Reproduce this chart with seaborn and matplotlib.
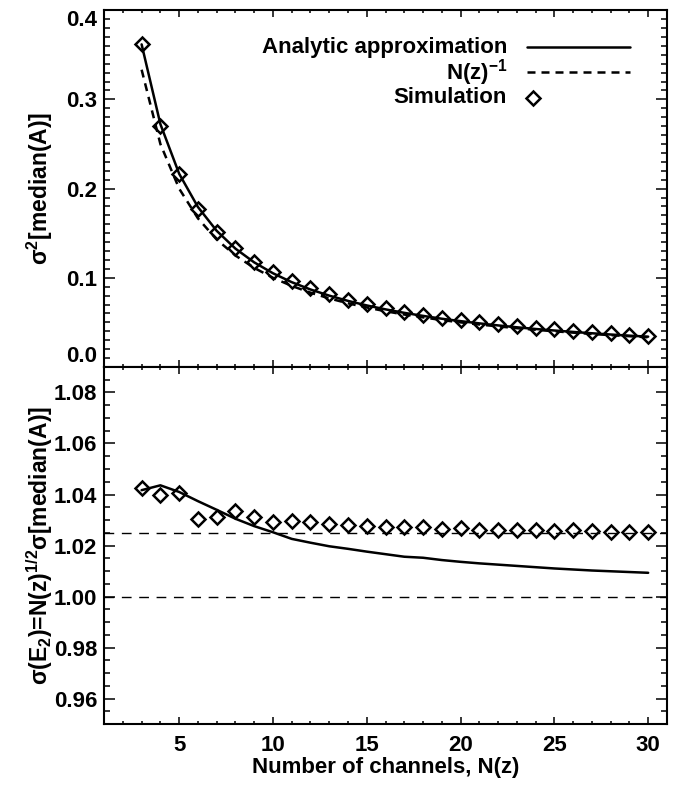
import matplotlib
matplotlib.use("Agg")
import matplotlib.pyplot as plt
from matplotlib.ticker import MultipleLocator, FormatStrFormatter
from matplotlib.lines import Line2D
import seaborn as sns

# ---- data ----
n_channels = list(range(3, 31))

analytic_var = [0.3617, 0.2723, 0.2167, 0.1794, 0.1527, 0.1327, 0.1173, 0.1051,
                0.0951, 0.0869, 0.0800, 0.0741, 0.0690, 0.0646, 0.0607, 0.0573,
                0.0541, 0.0514, 0.0489, 0.0466, 0.0445, 0.0426, 0.0409, 0.0393,
                0.0378, 0.0364, 0.0351, 0.0340]
inverse_n = [0.3333, 0.2500, 0.2000, 0.1667, 0.1429, 0.1250, 0.1111, 0.1000,
             0.0909, 0.0833, 0.0769, 0.0714, 0.0667, 0.0625, 0.0588, 0.0556,
             0.0526, 0.0500, 0.0476, 0.0455, 0.0435, 0.0417, 0.0400, 0.0385,
             0.0370, 0.0357, 0.0345, 0.0333]
simulation_var = [0.3622, 0.2703, 0.2165, 0.1769, 0.1519, 0.1336, 0.1182, 0.1060,
                  0.0964, 0.0883, 0.0814, 0.0755, 0.0704, 0.0659, 0.0621, 0.0586,
                  0.0554, 0.0527, 0.0501, 0.0478, 0.0458, 0.0439, 0.0421, 0.0405,
                  0.0390, 0.0376, 0.0363, 0.0350]

analytic_e2 = [1.0417, 1.0436, 1.0410, 1.0374, 1.0340, 1.0305, 1.0276, 1.0252,
               1.0226, 1.0211, 1.0197, 1.0187, 1.0176, 1.0166, 1.0156, 1.0152,
               1.0143, 1.0136, 1.0130, 1.0125, 1.0120, 1.0115, 1.0110, 1.0106,
               1.0102, 1.0099, 1.0096, 1.0093]
simulation_e2 = [1.0424, 1.0397, 1.0405, 1.0302, 1.0311, 1.0337, 1.0313, 1.0293,
                 1.0295, 1.0293, 1.0285, 1.0281, 1.0278, 1.0272, 1.0273, 1.0272,
                 1.0263, 1.0269, 1.0259, 1.0259, 1.0262, 1.0259, 1.0256, 1.0260,
                 1.0256, 1.0254, 1.0254, 1.0254]
reference_levels = [1.0, 1.025]

legend_labels = ["Analytic approximation", "N(z)$^{\u2212 1}$", "Simulation"]

# ---- style ----
sns.set_theme(style="ticks")
plt.rcParams["font.family"] = ["Liberation Sans", "DejaVu Sans"]
plt.rcParams["font.weight"] = "bold"
plt.rcParams["mathtext.default"] = "regular"
plt.rcParams["axes.linewidth"] = 1.5
plt.rcParams["text.color"] = "black"
plt.rcParams["axes.labelcolor"] = "black"
plt.rcParams["xtick.color"] = "black"
plt.rcParams["ytick.color"] = "black"

FS = 16
fig = plt.figure(figsize=(6.94, 7.87), dpi=100)
ax1 = fig.add_axes([0.150, 0.5337, 0.811, 0.4533])
ax2 = fig.add_axes([0.150, 0.080, 0.811, 0.4537], sharex=ax1)

LW = 1.8
MK = dict(marker="D", markersize=7, markerfacecolor="none",
          markeredgecolor="black", markeredgewidth=1.8)
# top panel
sns.lineplot(x=n_channels, y=analytic_var, ax=ax1, color="black", lw=LW)
sns.lineplot(x=n_channels, y=inverse_n, ax=ax1, color="black", lw=LW)
ax1.lines[-1].set_dashes((3.2, 2.4))
sns.lineplot(x=n_channels, y=simulation_var, ax=ax1, color="black", lw=0, **MK)

# bottom panel
for lev in reference_levels:
    ax2.axhline(lev, color="black", lw=1.0, dashes=(7, 5.5))
sns.lineplot(x=n_channels, y=analytic_e2, ax=ax2, color="black", lw=LW)
sns.lineplot(x=n_channels, y=simulation_e2, ax=ax2, color="black", lw=0, **MK)

ax1.set_xlim(1, 31)
ax1.set_ylim(0.0, 0.4)
ax2.set_ylim(0.95, 1.09)

ax1.yaxis.set_major_locator(MultipleLocator(0.1))
ax1.yaxis.set_minor_locator(MultipleLocator(0.01))
ax2.yaxis.set_major_locator(MultipleLocator(0.02))
ax2.yaxis.set_minor_locator(MultipleLocator(0.005))
ax2.xaxis.set_major_locator(MultipleLocator(5))
ax2.xaxis.set_minor_locator(MultipleLocator(1))
ax1.yaxis.set_major_formatter(FormatStrFormatter("%.1f"))
ax2.yaxis.set_major_formatter(FormatStrFormatter("%.2f"))

for ax in (ax1, ax2):
    ax.tick_params(which="both", direction="in", top=True, right=True,
                   width=1.1, colors="black", labelsize=FS)
    ax.tick_params(axis="x", which="major", length=5)
    ax.tick_params(axis="x", which="minor", length=2.5)
    ax.tick_params(axis="y", which="major", length=8, pad=5)
    ax.tick_params(axis="y", which="minor", length=4.3)
    for s in ax.spines.values():
        s.set_visible(True)
        s.set_linewidth(1.5)
        s.set_color("black")
    ax.set_facecolor("white")
ax1.tick_params(labelbottom=False)
ax2.tick_params(axis="x", pad=8)

ax1.set_xlabel("")
ax2.set_xlabel("Number of channels, N(z)", fontsize=FS, fontweight="bold",
               color="black")
ax1.set_ylabel(r"$\sigma^{2}$[median(A)]", fontsize=16.5, fontweight="bold",
               color="black")
ax2.set_ylabel(r"$\sigma$(E$_{2}$)=N(z)$^{1/2}$$\sigma$[median(A)]",
               fontsize=16.5, fontweight="bold", color="black")
ax1.yaxis.set_label_coords(-0.088, 0.5)
ax2.yaxis.set_label_coords(-0.088, 0.5)
ax2.xaxis.set_label_coords(0.5, -0.093)

fig.canvas.draw()
for t in ax1.get_yticklabels():
    if t.get_text() == "0.0":
        t.set_va("bottom")
    if t.get_text() == "0.4":
        t.set_va("top")

# legend (right-aligned labels with keys to the right)
tx = 0.716
rows = [0.896, 0.826, 0.754]
for lab, yy in zip(legend_labels, rows):
    ax1.text(tx, yy, lab, transform=ax1.transAxes, ha="right", va="center",
             fontsize=FS, fontweight="bold", color="black")
ax1.add_line(Line2D([0.751, 0.934], [rows[0], rows[0]], transform=ax1.transAxes,
                    color="black", lw=LW))
ax1.add_line(Line2D([0.751, 0.934], [rows[1], rows[1]], transform=ax1.transAxes,
                    color="black", lw=LW, dashes=(3.2, 2.4)))
ax1.add_line(Line2D([0.762], [rows[2]], transform=ax1.transAxes, color="black",
                    lw=0, **MK))

fig.savefig("out.png", dpi=100, facecolor="white")
